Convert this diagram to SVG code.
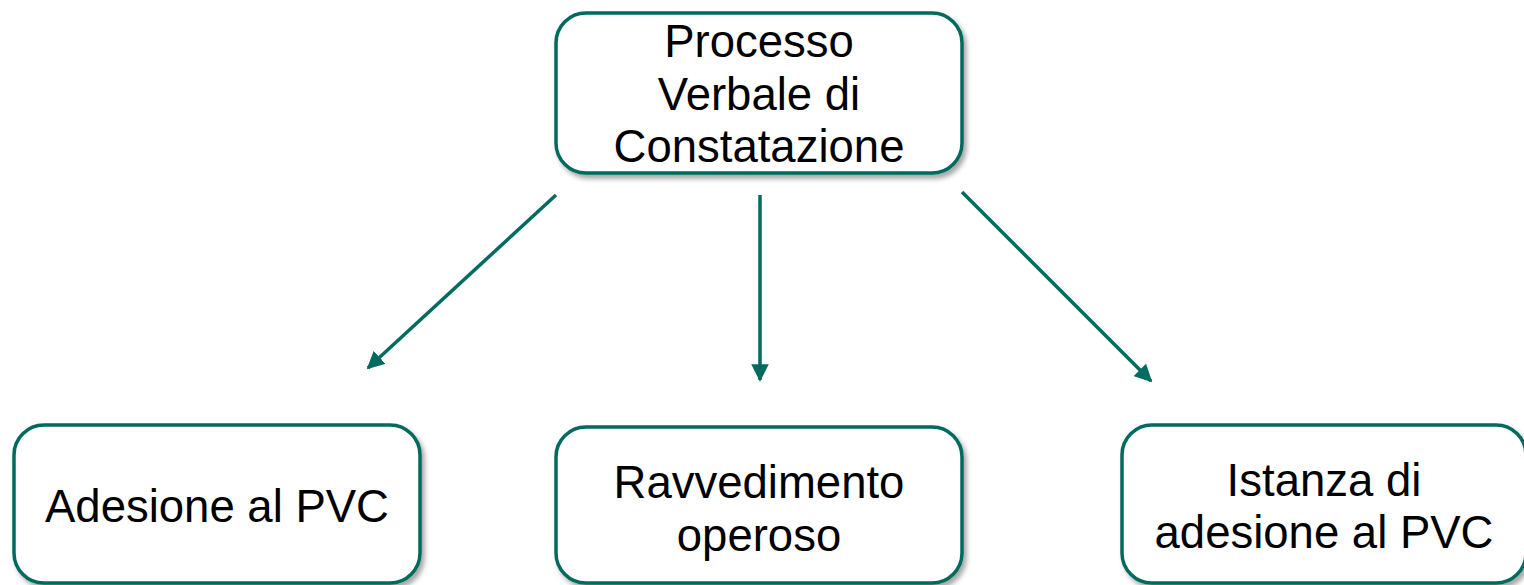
<svg xmlns="http://www.w3.org/2000/svg" width="1524" height="585" viewBox="0 0 1524 585">
  <style>
    .box { fill: #ffffff; stroke: #006b5e; stroke-width: 3.5; filter: url(#shadow); }
    .lbl { font-family: "Liberation Sans", Arial, sans-serif; font-size: 45.5px; fill: #000000; text-anchor: middle; }
    .conn { stroke: #006b5e; stroke-width: 3.5; fill: none; marker-end: url(#arrow); }
  </style>
  <defs>
    <filter id="shadow" x="-10%" y="-10%" width="120%" height="130%">
      <feDropShadow dx="3" dy="4" stdDeviation="2.5" flood-color="#000000" flood-opacity="0.35"/>
    </filter>
    <marker id="arrow" viewBox="0 0 10 10" refX="9" refY="5" markerWidth="5" markerHeight="5" orient="auto" markerUnits="strokeWidth">
      <path d="M0,0 L10,5 L0,10 z" fill="#006b5e"/>
    </marker>
  </defs>

  <rect width="1524" height="585" fill="#ffffff"/>

  <g id="connectors">
    <line class="conn" x1="556" y1="195" x2="368" y2="368"/>
    <line class="conn" x1="760" y1="195" x2="760" y2="380"/>
    <line class="conn" x1="962" y1="192" x2="1151" y2="381"/>
  </g>

  <g id="node-pvc">
    <rect class="box" x="556" y="13" width="406" height="160" rx="30"/>
    <text class="lbl" x="759" y="57">Processo</text>
    <text class="lbl" x="759" y="110">Verbale di</text>
    <text class="lbl" x="759" y="162">Constatazione</text>
  </g>

  <g id="node-adesione">
    <rect class="box" x="14" y="425" width="406" height="158" rx="30"/>
    <text class="lbl" x="217" y="522">Adesione al PVC</text>
  </g>

  <g id="node-ravvedimento">
    <rect class="box" x="556" y="427" width="406" height="156" rx="30"/>
    <text class="lbl" x="759" y="498">Ravvedimento</text>
    <text class="lbl" x="759" y="551">operoso</text>
  </g>

  <g id="node-istanza">
    <rect class="box" x="1122" y="425" width="404" height="158" rx="30"/>
    <text class="lbl" x="1324" y="496">Istanza di</text>
    <text class="lbl" x="1324" y="548">adesione al PVC</text>
  </g>
</svg>
